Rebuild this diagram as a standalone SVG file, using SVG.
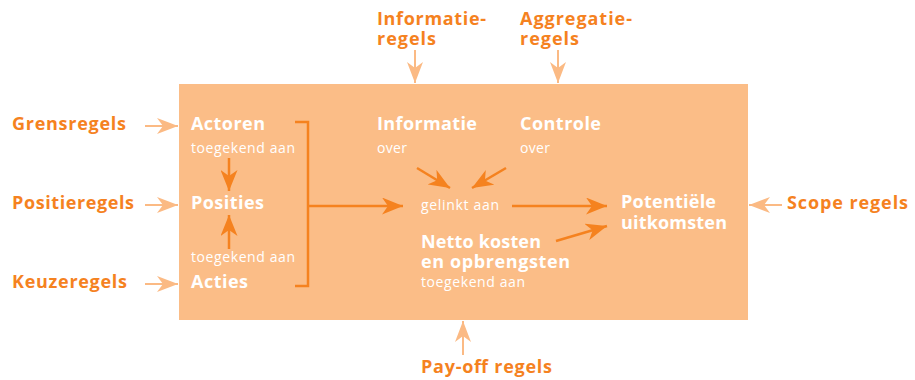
<svg xmlns="http://www.w3.org/2000/svg" width="915" height="380" viewBox="0 0 915 380">
<style>
.ext{font-family:"Open Sans","DejaVu Sans",sans-serif;font-weight:bold;font-size:18px;fill:#F5821F}
.hd{font-family:"Open Sans","DejaVu Sans",sans-serif;font-weight:bold;font-size:18px;fill:#FFFFFF}
.sub{font-family:"Open Sans","DejaVu Sans",sans-serif;font-size:14px;fill:#FFFFFF}
.lt{stroke:#FBBA84;stroke-width:2;fill:none}
.dk{stroke:#F5821F;stroke-width:2.5;fill:none}
</style>
<defs>
<marker id="ahL" viewBox="0 0 21 16" refX="21" refY="8" markerWidth="21" markerHeight="16" markerUnits="userSpaceOnUse" orient="auto"><path d="M0,0 L21,8 L0,16 L6,8 z" fill="#FBBA84"/></marker>
<marker id="ahD" viewBox="0 0 21 17" refX="21" refY="8.5" markerWidth="21" markerHeight="17" markerUnits="userSpaceOnUse" orient="auto"><path d="M0,0 L21,8.5 L0,17 L6,8.5 z" fill="#F5821F"/></marker>
</defs>
<rect id="frame" x="179" y="84" width="569" height="236" fill="#FBBD87"/>
<g id="external-labels">
<g id="grensregels"><text class="ext" x="12" y="130" textLength="114">Grensregels</text></g>
<g id="positieregels"><text class="ext" x="12" y="209" textLength="122">Positieregels</text></g>
<g id="keuzeregels"><text class="ext" x="12" y="288" textLength="115">Keuzeregels</text></g>
<g id="informatieregels"><text class="ext" x="377" y="25" textLength="109">Informatie-</text><text class="ext" x="377" y="45" textLength="59">regels</text></g>
<g id="aggregatieregels"><text class="ext" x="520" y="25" textLength="112">Aggregatie-</text><text class="ext" x="520" y="45" textLength="59">regels</text></g>
<g id="scoperegels"><text class="ext" x="787" y="209" textLength="121">Scope regels</text></g>
<g id="payoffregels"><text class="ext" x="421" y="373" textLength="131">Pay-off regels</text></g>
</g>
<g id="actoren"><text class="hd" x="191" y="130" textLength="74">Actoren</text><text class="sub" x="191" y="153" textLength="104">toegekend aan</text></g>
<g id="posities"><text class="hd" x="191" y="209" textLength="73">Posities</text></g>
<g id="acties"><text class="sub" x="191" y="262" textLength="104">toegekend aan</text><text class="hd" x="191" y="288" textLength="57">Acties</text></g>
<g id="informatie"><text class="hd" x="377" y="130" textLength="100">Informatie</text><text class="sub" x="377" y="153" textLength="30">over</text></g>
<g id="controle"><text class="hd" x="520" y="130" textLength="81">Controle</text><text class="sub" x="520" y="153" textLength="30">over</text></g>
<g id="gelinkt"><text class="sub" x="421" y="210" textLength="78">gelinkt aan</text></g>
<g id="netto"><text class="hd" x="421" y="248" textLength="120">Netto kosten</text><text class="hd" x="421" y="268" textLength="149">en opbrengsten</text><text class="sub" x="421" y="287" textLength="104">toegekend aan</text></g>
<g id="uitkomsten"><text class="hd" x="621" y="208" textLength="95">Potentiële</text><text class="hd" x="621" y="229" textLength="106">uitkomsten</text></g>
<g id="connectors">
<line class="lt" x1="145" y1="126" x2="178" y2="126" marker-end="url(#ahL)"/>
<line class="lt" x1="145" y1="205" x2="178" y2="205" marker-end="url(#ahL)"/>
<line class="lt" x1="145" y1="284" x2="178" y2="284" marker-end="url(#ahL)"/>
<line class="lt" x1="415" y1="50" x2="415" y2="83" marker-end="url(#ahL)"/>
<line class="lt" x1="558" y1="50" x2="558" y2="83" marker-end="url(#ahL)"/>
<line class="lt" x1="782" y1="205" x2="749" y2="205" marker-end="url(#ahL)"/>
<line class="lt" x1="463" y1="355" x2="463" y2="321" marker-end="url(#ahL)"/>
<line class="dk" x1="229" y1="158" x2="229" y2="191" marker-end="url(#ahD)"/>
<line class="dk" x1="229" y1="249" x2="229" y2="215" marker-end="url(#ahD)"/>
<path class="dk" d="M295,122 H308 V286 H295"/>
<line class="dk" x1="308" y1="206" x2="403" y2="206" marker-end="url(#ahD)"/>
<line class="dk" x1="417" y1="168" x2="450" y2="188" marker-end="url(#ahD)"/>
<line class="dk" x1="506" y1="168" x2="472" y2="188" marker-end="url(#ahD)"/>
<line class="dk" x1="512" y1="206" x2="607" y2="206" marker-end="url(#ahD)"/>
<line class="dk" x1="556" y1="241" x2="607" y2="226" marker-end="url(#ahD)"/>
</g>
</svg>
